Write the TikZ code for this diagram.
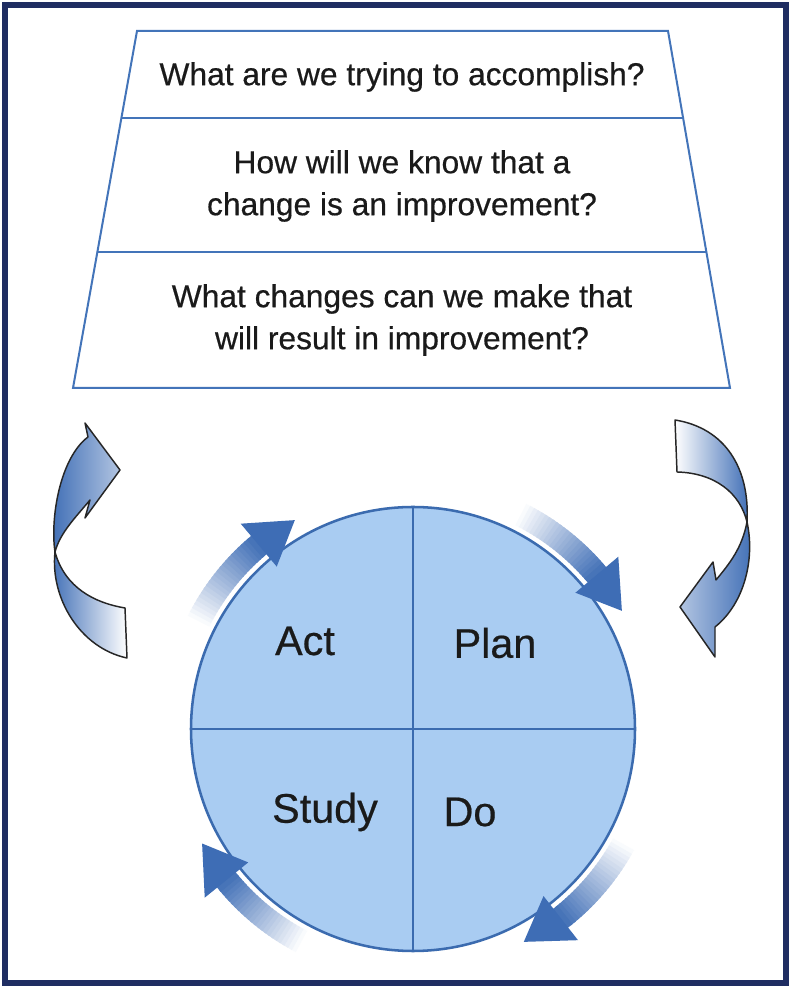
\documentclass[tikz,border=0pt]{standalone}
\usepackage{fontspec}
\setmainfont{Liberation Sans}
\newfontfamily\qfont[FakeBold=0.5]{Liberation Sans}
\definecolor{navy}{HTML}{1F2D62}
\definecolor{trapline}{HTML}{4374B9}
\definecolor{circfill}{HTML}{A9CCF2}
\definecolor{circedge}{HTML}{3B6BAF}
\definecolor{arrowblue}{HTML}{3E6DB5}
\definecolor{txt}{HTML}{1A1A1A}
\begin{document}
\begin{tikzpicture}[x=0.75pt,y=0.75pt,
  trap/.style={draw=trapline, line width=1.5pt, line join=miter},
  qtext/.style={font=\qfont\fontsize{23.8}{31.5}\selectfont, text=txt, align=center, inner sep=0pt},
  lbl/.style={font=\qfont\fontsize{31}{36}\selectfont, text=txt, inner sep=0pt},
  sidearrow/.style={draw=black!85, line width=1.1pt, line join=round}]
\useasboundingbox (0,0) rectangle (791,988);
\fill[white] (0,0) rectangle (791,988);
\draw[navy, line width=4.5pt] (5,5) rectangle (786,983);

% trapezoid of questions
\draw[trap] (137,957) -- (668,957) -- (730,600) -- (73,600) -- cycle;
\draw[trap] (121.4,870) -- (683.1,870);
\draw[trap] (97.4,736) -- (706.4,736);
\node[qtext] (q1) at (402,911) {What are we trying to accomplish?};
\node[qtext] (q2) at (402,802) {How will we know that a\\change is an improvement?};
\node[qtext] (q3) at (402,668) {What changes can we make that\\will result in improvement?};

% PDSA circle
\node[circle, draw=circedge, fill=circfill, line width=1.9pt, minimum size=333pt, inner sep=0pt] (cyc) at (413,259) {};
\draw[circedge, line width=1.5pt] (cyc.north) -- (cyc.south);
\draw[circedge, line width=1.5pt] (cyc.west) -- (cyc.east);
\node[lbl] (act) at (305,347) {Act};
\node[lbl] (plan) at (495,345) {Plan};
\node[lbl] (study) at (325,176) {Study};
\node[lbl] (do) at (470,176) {Do};

% gradient arrows around the circle
\foreach \b in {40,-52,-141,130} {
  \foreach \i in {0,...,22} {
    \pgfmathsetmacro\p{3+4.2*\i}
    \draw[arrowblue!\p!white, line width=18pt]
      ([shift={(\b+23-\i+0.3:240)}]cyc.center)
      arc[start angle=\b+23-\i+0.3, end angle=\b+22-\i-0.3, radius=240];
  }
  \fill[arrowblue] ([shift={(\b:212)}]cyc.center) -- ([shift={(\b:268)}]cyc.center)
    -- ([shift={(\b-10.5:240)}]cyc.center) -- cycle;
}

% left twisted arrow
\draw[sidearrow, left color=arrowblue, right color=white] (55,436) .. controls (50,390) and (80,340) .. (127,330) -- (125,380) .. controls (95,385) and (65,400) .. (55,436) -- cycle;
\draw[sidearrow, left color=arrowblue, right color=arrowblue!40!white] (88,551) -- (85,565) -- (120,518) -- (85,470) -- (90,488) .. controls (75,470) and (60,455) .. (55,436) .. controls (50,470) and (60,530) .. (88,551) -- cycle;

% right twisted arrow
\draw[sidearrow, left color=white, right color=arrowblue] (675,568) .. controls (725,560) and (750,520) .. (747,466) .. controls (740,495) and (715,515) .. (677,516) -- cycle;
\draw[sidearrow, left color=arrowblue!40!white, right color=arrowblue] (747,466) .. controls (755,430) and (745,385) .. (715,361) -- (715,331) -- (680,381) -- (713,426) -- (716,408) .. controls (730,425) and (742,440) .. (747,466) -- cycle;
\end{tikzpicture}
\end{document}
